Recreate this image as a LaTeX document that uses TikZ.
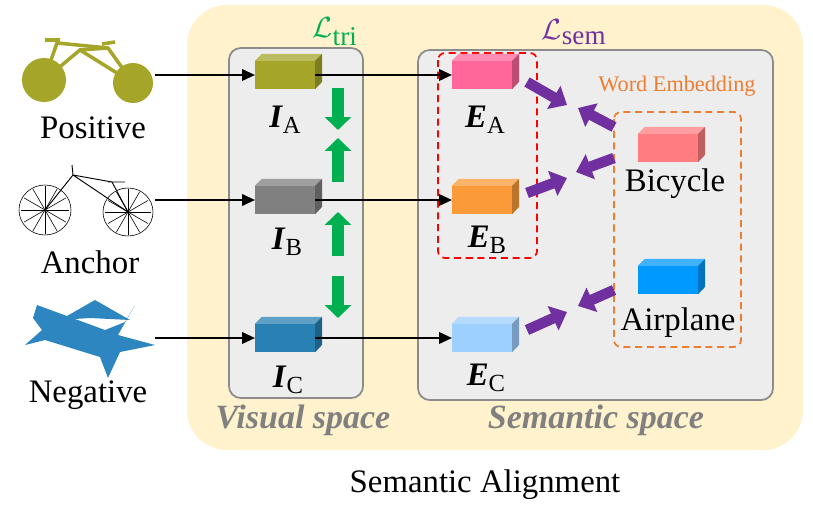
\documentclass[tikz,border=0pt]{standalone}
\usepackage{fontspec}
\setmainfont{Liberation Serif}
\usetikzlibrary{arrows.meta}
\definecolor{bgy}{HTML}{FFF2CC}
\definecolor{boxg}{HTML}{EDEDED}
\definecolor{olive}{HTML}{A5A52A}
\definecolor{grn}{HTML}{00B050}
\definecolor{purp}{HTML}{7030A0}
\definecolor{wordo}{HTML}{ED7D31}
\definecolor{cIC}{HTML}{2980B3}
\definecolor{cEA}{HTML}{FF6699}
\definecolor{cEB}{HTML}{FA9A38}
\definecolor{cEC}{HTML}{9DCFFF}
\definecolor{cWB}{HTML}{FF7C80}
\definecolor{cWA}{HTML}{0099FF}
\definecolor{plane}{HTML}{2E86C1}
\newcommand\mycube[4]{% name, x, y, color
  \node[cube,fill=#4] (#1) at (#2,#3) {};
  \fill[#4!75!white] (#1.north west) -- ++(7,-7) -- ++(60,0) -- (#1.north east) -- cycle;
  \fill[#4!75!black] (#1.north east) -- ++(7,-7) -- ++(0,28) -- (#1.south east) -- cycle;
}
\newcommand\sublbl[2]{\textbf{\textit{#1}}\raisebox{-0.4ex}{\fontsize{21}{24}\selectfont #2}}
\begin{document}
\begin{tikzpicture}[x=0.03cm,y=-0.03cm,
  cube/.style={draw=none,minimum width=51pt,minimum height=23.8pt,inner sep=0},
  space/.style={draw=gray!90,line width=1.5pt,fill=boxg,rounded corners=10pt},
  lbl/.style={font=\fontsize{28}{32}\selectfont},
  conn/.style={-{Triangle[length=11pt,width=10pt]},line width=1.3pt},
  garrow/.style={-{Triangle[length=11pt,width=22pt]},line width=10pt,grn},
  parrow/.style={-{Triangle[length=13pt,width=22pt]},line width=9pt,purp},
  ital/.style={font=\fontsize{29}{33}\selectfont\bfseries\itshape,text=gray}]
\useasboundingbox (0,0) rectangle (813,504);
\fill[bgy,rounded corners=34pt] (187,5) rectangle (803,450);
\draw[space] (229,48) rectangle (363,398);
\draw[space] (418,50) rectangle (773,400);
\draw[red,dashed,line width=1.5pt,rounded corners=6pt,dash pattern=on 6pt off 4pt] (438,53) rectangle (537,258);
\draw[wordo,dashed,line width=1.5pt,rounded corners=6pt,dash pattern=on 6pt off 4pt] (614,112) rectangle (741,347);
% cubes
\mycube{IA}{285}{75}{olive}
\mycube{IB}{285}{200}{gray}
\mycube{IC}{285}{338}{cIC}
\mycube{EA}{482}{75}{cEA}
\mycube{EB}{482}{200}{cEB}
\mycube{EC}{482}{338}{cEC}
\mycube{WB}{668}{148}{cWB}
\mycube{WA}{668}{280}{cWA}
% labels
\node[lbl] (lIA) at (285,120) {\sublbl{I}{A}};
\node[lbl] (lIB) at (287,242) {\sublbl{I}{B}};
\node[lbl] (lIC) at (288,380) {\sublbl{I}{C}};
\node[lbl] (lEA) at (485,120) {\sublbl{E}{A}};
\node[lbl] (lEB) at (487,240) {\sublbl{E}{B}};
\node[lbl] (lEC) at (486,378) {\sublbl{E}{C}};
\node[lbl] (tB) at (675,184) {Bicycle};
\node[lbl] (tA) at (678,323) {Airplane};
\node[font=\fontsize{19}{22}\selectfont,text=wordo] (we) at (677,86) {Word Embedding};
\node[font=\fontsize{33}{37}\selectfont,text=grn] (ltri) at (335,32) {$\mathcal{L}_{\mathrm{tri}}$};
\node[font=\fontsize{33}{37}\selectfont,text=purp] (lsem) at (574,32) {$\mathcal{L}_{\mathrm{sem}}$};
\node[ital] (vs) at (303,420) {Visual space};
\node[ital] (ss) at (596,420) {Semantic space};
\node[lbl] (sa) at (485,485) {Semantic Alignment};
\node[lbl] (pos) at (93,128) {Positive};
\node[lbl] (anc) at (90,262) {Anchor};
\node[lbl] (neg) at (88,395) {Negative};
% pictures
\coordinate (p1) at (155,75); \coordinate (p2) at (155,200); \coordinate (p3) at (155,338);
\begin{scope}[olive]
\fill (44,80) circle (22); \fill (133,83) circle (20);
\draw[line width=3pt] (44,80) -- (80,50) -- (133,83) -- (108,48) -- (57,43) -- (44,80);
\draw[line width=3pt] (80,50) -- (108,48);
\draw[line width=3pt] (45,40) -- (60,40) (102,44) -- (115,42);
\end{scope}
\begin{scope}[black,line width=0.5pt]
\draw (45,210) ellipse (26 and 25); \draw (128,212) ellipse (25 and 24);
\foreach \a in {0,30,...,330}{\draw (45,210) -- ++(\a:24); \draw (128,212) -- ++(\a:23);}
\draw[line width=0.8pt] (45,210) -- (73,175) -- (128,212) -- (112,182) -- (73,175) (72,165) -- (73,175) (108,182) -- (125,182);
\end{scope}
\fill[plane] (37,305) -- (105,330) -- (125,322) -- (135,305) -- (118,335) -- (155,345) -- (120,352) -- (108,378) -- (100,357) -- (45,340) -- (25,345) -- (42,330) -- (33,318) -- cycle;
\fill[plane] (60,320) -- (95,300) -- (130,320) -- (90,318) -- cycle;
% connectors
\draw[conn] (p1) -- (IA.west);
\draw[conn] (p2) -- (IB.west);
\draw[conn] (p3) -- (IC.west);
\draw[conn] (IA.east) -- (EA.west);
\draw[conn] (IB.east) -- (EB.west);
\draw[conn] (IC.east) -- (EC.west);
% green
\coordinate (g1) at (338,88); \coordinate (g2) at (338,130);
\coordinate (g3) at (338,182); \coordinate (g4) at (338,138);
\coordinate (g5) at (338,256); \coordinate (g6) at (338,212);
\coordinate (g7) at (338,276); \coordinate (g8) at (338,318);
\draw[garrow] (g1) -- (g2); \draw[garrow] (g3) -- (g4);
\draw[garrow] (g5) -- (g6); \draw[garrow] (g7) -- (g8);
% purple
\coordinate (a1) at (527,82); \coordinate (a2) at (567,105);
\coordinate (a3) at (614,127); \coordinate (a4) at (578,108);
\coordinate (a5) at (527,193); \coordinate (a6) at (567,178);
\coordinate (a7) at (614,158); \coordinate (a8) at (576,172);
\coordinate (a9) at (527,330); \coordinate (a10) at (567,312);
\coordinate (a11) at (614,290); \coordinate (a12) at (578,306);
\draw[parrow] (a1) -- (a2); \draw[parrow] (a3) -- (a4);
\draw[parrow] (a5) -- (a6); \draw[parrow] (a7) -- (a8);
\draw[parrow] (a9) -- (a10); \draw[parrow] (a11) -- (a12);
\end{tikzpicture}
\end{document}
